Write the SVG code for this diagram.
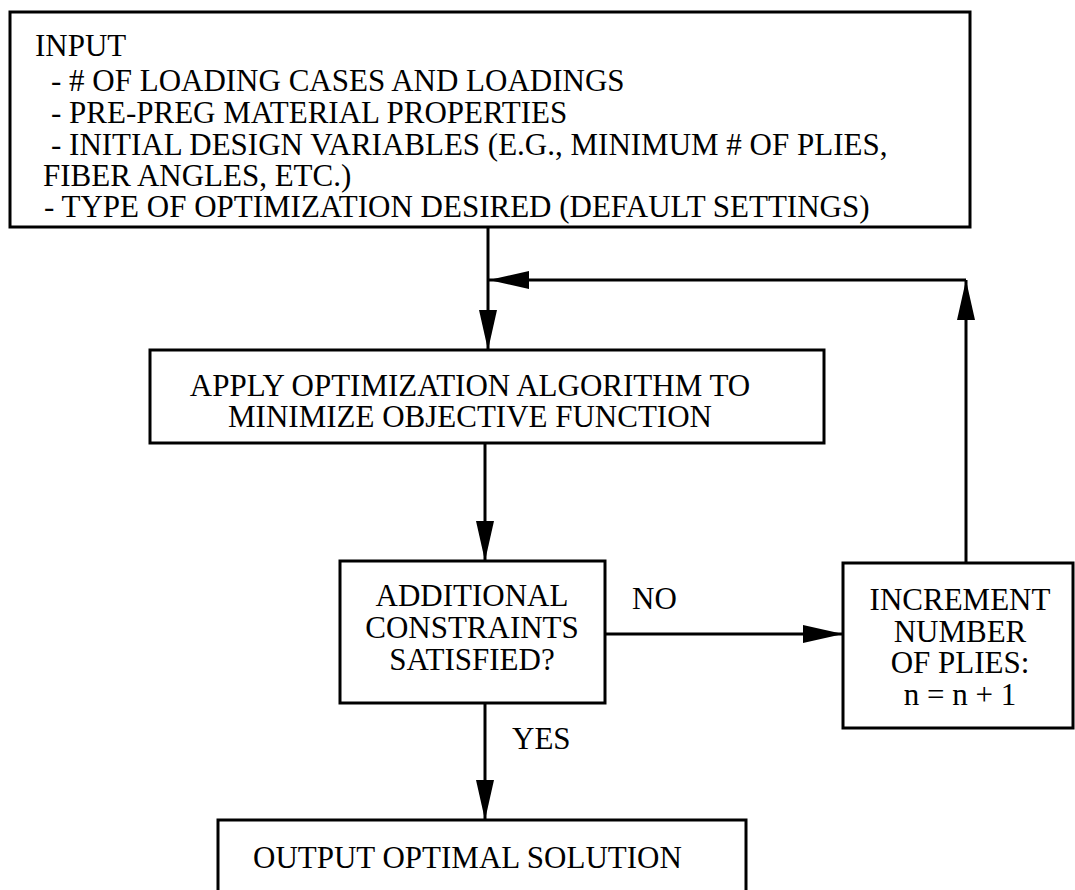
<svg xmlns="http://www.w3.org/2000/svg" width="1075" height="890" viewBox="0 0 1075 890">
<style>
.box{fill:#fff;stroke:#000;stroke-width:3}
.t{font-family:"Liberation Serif","Times New Roman",serif;font-size:31px;fill:#000}
.c{text-anchor:middle}
.ln{fill:none;stroke:#000;stroke-width:3}
</style>
<defs>
<marker id="ah" markerUnits="userSpaceOnUse" markerWidth="42" markerHeight="20" refX="40" refY="9" orient="auto">
<path d="M0,0 L40,9 L0,18 z" fill="#000"/>
</marker>
</defs>
<rect width="1075" height="890" fill="#fff"/>
<g id="connectors">
<path class="ln" d="M488,227 V350" marker-end="url(#ah)"/>
<path class="ln" d="M966,563 V280" marker-end="url(#ah)"/>
<path class="ln" d="M966,280 H489" marker-end="url(#ah)"/>
<path class="ln" d="M485,443 V561" marker-end="url(#ah)"/>
<path class="ln" d="M605,634 H843" marker-end="url(#ah)"/>
<path class="ln" d="M485,703 V820" marker-end="url(#ah)"/>
<text class="t" x="632" y="609">NO</text>
<text class="t" x="512" y="749">YES</text>
</g>
<g id="input">
<rect class="box" x="10" y="12" width="960" height="215"/>
<text class="t" x="35" y="56">INPUT</text>
<text class="t" x="51" y="91">- # OF LOADING CASES AND LOADINGS</text>
<text class="t" x="51" y="123">- PRE-PREG MATERIAL PROPERTIES</text>
<text class="t" x="51" y="155">- INITIAL DESIGN VARIABLES (E.G., MINIMUM # OF PLIES,</text>
<text class="t" x="43" y="186">FIBER ANGLES, ETC.)</text>
<text class="t" x="44" y="217">- TYPE OF OPTIMIZATION DESIRED (DEFAULT SETTINGS)</text>
</g>
<g id="apply">
<rect class="box" x="150" y="350" width="674" height="93"/>
<text class="t c" x="470" y="396">APPLY OPTIMIZATION ALGORITHM TO</text>
<text class="t c" x="470" y="427">MINIMIZE OBJECTIVE FUNCTION</text>
</g>
<g id="check">
<rect class="box" x="340" y="561" width="265" height="142"/>
<text class="t c" x="472" y="606">ADDITIONAL</text>
<text class="t c" x="472" y="638">CONSTRAINTS</text>
<text class="t c" x="472" y="670">SATISFIED?</text>
</g>
<g id="increment">
<rect class="box" x="843" y="563" width="230" height="165"/>
<text class="t c" x="960" y="610">INCREMENT</text>
<text class="t c" x="960" y="642">NUMBER</text>
<text class="t c" x="960" y="673">OF PLIES:</text>
<text class="t c" x="960" y="705">n = n + 1</text>
</g>
<g id="output">
<rect class="box" x="218" y="820" width="528" height="85"/>
<text class="t" x="253" y="868">OUTPUT OPTIMAL SOLUTION</text>
</g>
</svg>
